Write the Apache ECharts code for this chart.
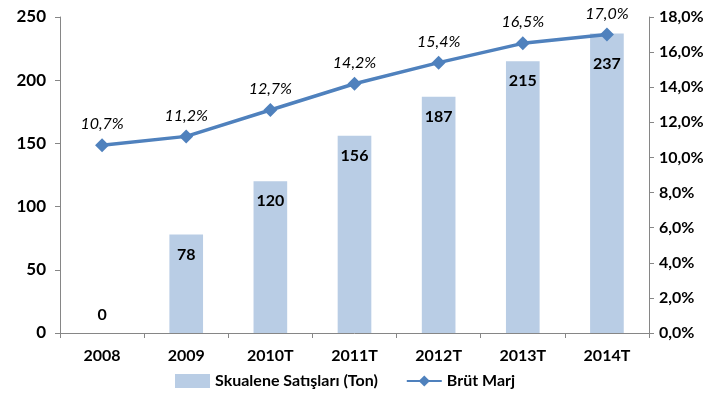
<!DOCTYPE html>
<html>
<head>
<meta charset="utf-8">
<script src="https://cdn.jsdelivr.net/npm/echarts@6/dist/echarts.min.js"></script>
<style>
html, body { margin: 0; padding: 0; background: #fff; }
#chart { width: 728px; height: 414px; }
</style>
</head>
<body>
<div id="chart"></div>
<script>
const years = ['2008', '2009', '2010T', '2011T', '2012T', '2013T', '2014T'];
const sales = [0, 78, 120, 156, 187, 215, 237];
const margin = [10.7, 11.2, 12.7, 14.2, 15.4, 16.5, 17.0];

const font = 'Lato, "Open Sans", sans-serif';
const axisGray = '#868686';

const chart = echarts.init(document.getElementById('chart'));

chart.setOption({
    animation: false,
    textStyle: { fontFamily: font },
    legend: {
        bottom: 20,
        left: 170,
        itemGap: 28,
        itemWidth: 35,
        itemHeight: 14,
        textStyle: { fontFamily: font, fontSize: 16, fontWeight: 'bold', color: '#000' },
        data: [
            { name: 'Skualene Satışları (Ton)', icon: 'rect' },
            { name: 'Brüt Marj' }
        ]
    },
    grid: { left: 60, right: 79, top: 17, bottom: 81 },
    xAxis: {
        type: 'category',
        data: years,
        axisLine: { lineStyle: { color: axisGray } },
        axisTick: { show: true, length: 5, lineStyle: { color: axisGray } },
        axisLabel: { fontFamily: font, fontSize: 16, fontWeight: 'bold', color: '#000', margin: 15 }
    },
    yAxis: [
        {
            type: 'value',
            min: 0,
            max: 250,
            interval: 50,
            splitLine: { show: false },
            axisLine: { show: true, lineStyle: { color: axisGray } },
            axisTick: { show: true, length: 5, lineStyle: { color: axisGray } },
            axisLabel: { fontFamily: font, fontSize: 17, fontWeight: 'bold', color: '#000', margin: 14 }
        },
        {
            type: 'value',
            min: 0,
            max: 18,
            interval: 2,
            position: 'right',
            splitLine: { show: false },
            axisLine: { show: true, lineStyle: { color: axisGray } },
            axisTick: { show: true, length: 5, lineStyle: { color: axisGray } },
            axisLabel: {
                fontFamily: font, fontSize: 16, fontWeight: 'bold', color: '#000', margin: 10,
                formatter: v => v.toFixed(1).replace('.', ',') + '%'
            }
        }
    ],
    series: [
        {
            name: 'Skualene Satışları (Ton)',
            type: 'bar',
            barWidth: '40%',
            itemStyle: { color: '#b9cde5' },
            label: {
                show: true,
                position: 'insideTop',
                distance: 12,
                fontFamily: font,
                fontSize: 16,
                fontWeight: 'bold',
                color: '#000'
            },
            data: sales.map((v, i) => {
                if (v === 0) return { value: v, label: { position: 'top', distance: 10 } };
                if (i === sales.length - 1) return { value: v, label: { distance: 22 } };
                return v;
            })
        },
        {
            name: 'Brüt Marj',
            type: 'line',
            yAxisIndex: 1,
            symbol: 'diamond',
            symbolSize: 14,
            itemStyle: { color: '#4f81bd' },
            lineStyle: { color: '#4f81bd', width: 3.5 },
            label: {
                show: true,
                position: 'top',
                distance: 6,
                fontFamily: font,
                fontSize: 16,
                fontStyle: 'italic',
                color: '#000',
                formatter: p => p.value.toFixed(1).replace('.', ',') + '%'
            },
            data: margin
        }
    ]
});
</script>
</body>
</html>
